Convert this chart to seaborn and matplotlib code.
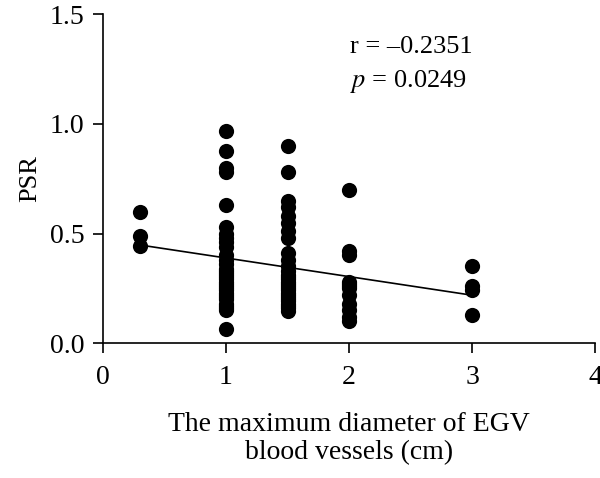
import numpy as np
import pandas as pd
import matplotlib
matplotlib.use('Agg')
import matplotlib.pyplot as plt
import seaborn as sns

# Values (dense columns hide overlapping points)
x_03 = [0.60, 0.49, 0.445]
x_10 = [0.97, 0.875, 0.80, 0.78, 0.63, 0.53, 0.50, 0.48, 0.46, 0.44, 0.40, 0.38,
        0.36, 0.34, 0.32, 0.30, 0.28, 0.26, 0.24, 0.22, 0.20, 0.18, 0.16, 0.15, 0.065,
        0.33, 0.29, 0.25, 0.21, 0.17, 0.31, 0.27, 0.23]
x_15 = [0.90, 0.78, 0.65, 0.62, 0.58, 0.55, 0.51, 0.48, 0.41, 0.38, 0.35, 0.33,
        0.30, 0.28, 0.26, 0.24, 0.22, 0.20, 0.18, 0.16, 0.145,
        0.31, 0.27, 0.23, 0.19, 0.17, 0.29, 0.25, 0.21]
x_20 = [0.70, 0.42, 0.40, 0.28, 0.25, 0.22, 0.18, 0.15, 0.12, 0.10, 0.26, 0.27]
x_30 = [0.35, 0.26, 0.24, 0.13]

groups = {0.3: x_03, 1.0: x_10, 1.5: x_15, 2.0: x_20, 3.0: x_30}
df = pd.DataFrame([(k, v) for k, vals in groups.items() for v in vals],
                  columns=['diameter', 'psr'])

sns.set_style('ticks')
plt.rcParams['font.family'] = ['Liberation Serif', 'DejaVu Serif']
plt.rcParams['mathtext.fontset'] = 'stix'
plt.rcParams['text.color'] = 'black'
plt.rcParams['axes.labelcolor'] = 'black'

fig = plt.figure(figsize=(6, 4.78), dpi=100)
ax = fig.add_axes([0.1717, 0.2824, 0.82, 0.6873])

sns.regplot(data=df, x='diameter', y='psr', ax=ax, ci=None, color='black',
            scatter_kws={'s': 120, 'alpha': 1, 'linewidths': 0},
            line_kws={'lw': 1.2})

ax.set_xlim(0, 4)
ax.set_ylim(0, 1.5)
ax.set_xticks([0, 1, 2, 3, 4])
ax.set_yticks([0.0, 0.5, 1.0, 1.5])
ax.set_yticklabels(['0.0', '0.5', '1.0', '1.5'])
ax.tick_params(labelsize=20, length=7.5, width=1.2, colors='black')
ax.tick_params(axis='x', pad=8)
ax.tick_params(axis='y', pad=6)
for s in ['left', 'bottom']:
    ax.spines[s].set_linewidth(1.2)
    ax.spines[s].set_color('black')
sns.despine(ax=ax)

ax.set_xlabel('The maximum diameter of EGV\nblood vessels (cm)', fontsize=20,
              labelpad=16, linespacing=1.2, color='black')
ax.set_ylabel('PSR', fontsize=19, labelpad=6, color='black')

ax.text(0.502, 0.90, 'r = –0.2351', transform=ax.transAxes, fontsize=19,
        va='center', color='black')
ax.text(0.502, 0.795, '$p$ = 0.0249', transform=ax.transAxes, fontsize=19,
        va='center', color='black')

fig.savefig('out.png', dpi=100)
